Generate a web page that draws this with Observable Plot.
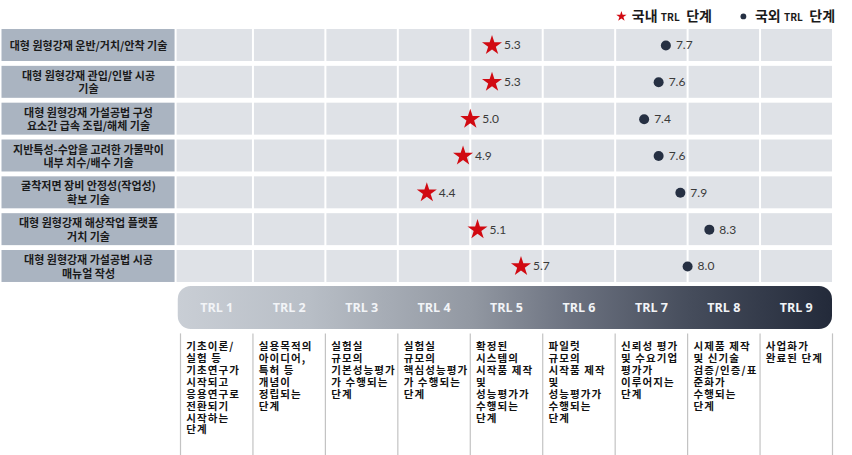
<!DOCTYPE html>
<html><head><meta charset="utf-8">
<script src="https://cdn.jsdelivr.net/npm/d3@7"></script>
<script src="https://cdn.jsdelivr.net/npm/@observablehq/plot@0.6"></script>
<style>
body{margin:0;background:#fff;}
#chart svg{display:block;}
</style>
</head><body><div id="chart"></div>
<script>
// ---- data ----
const techs = [
  "대형 원형강재 운반/거치/안착 기술",
  "대형 원형강재 관입/인발 시공\n기술",
  "대형 원형강재 가설공법 구성\n요소간 급속 조립/해체 기술",
  "지반특성-수압을 고려한 가물막이\n내부 치수/배수 기술",
  "굴착저면 장비 안정성(작업성)\n확보 기술",
  "대형 원형강재 해상작업 플랫폼\n거치 기술",
  "대형 원형강재 가설공법 시공\n매뉴얼 작성"
];
const domestic = [5.3, 5.3, 5.0, 4.9, 4.4, 5.1, 5.7];
const foreign  = [7.7, 7.6, 7.4, 7.6, 7.9, 8.3, 8.0];
const trlLevels = [1, 2, 3, 4, 5, 6, 7, 8, 9];
const trlNames = ["TRL 1","TRL 2","TRL 3","TRL 4","TRL 5","TRL 6","TRL 7","TRL 8","TRL 9"];
const trlDescriptions = [
  "기초이론/\n실험 등\n기초연구가\n시작되고\n응용연구로\n전환되기\n시작하는\n단계",
  "실용목적의\n아이디어,\n특허 등\n개념이\n정립되는\n단계",
  "실험실\n규모의\n기본성능평가\n가 수행되는\n단계",
  "실험실\n규모의\n핵심성능평가\n가 수행되는\n단계",
  "확정된\n시스템의\n시작품 제작\n및\n성능평가가\n수행되는\n단계",
  "파일럿\n규모의\n시작품 제작\n및\n성능평가가\n수행되는\n단계",
  "신뢰성 평가\n및 수요기업\n평가가\n이루어지는\n단계",
  "시제품 제작\n및 신기술\n검증/인증/표\n준화가\n수행되는\n단계",
  "사업화가\n완료된 단계"
];
const legendNames = ["국내", "국외"];
const legendUnit = "TRL";
const legendSuffix = "단계";

// ---- layout (in scale units) ----
const L = {
  labelX1: -1.464, labelX2: 0.925, labelCx: -0.27,
  gridX1: 0.953, gridX2: 10,
  rowHalf: 0.434,
  barY1: 6.544, barY2: 7.711, barX1: 0.969,
  descY1: 7.83, descY2: 11.2, descTextY: 8.05, descDx: 0.08,
  legendY: -0.79,
  legendSym: [7.086, 8.77], legendName: [7.23, 8.93], legendUnit: [7.63, 9.33], legendSuffix: [7.98, 9.68]
};
const FONT = "'Noto Sans CJK KR', 'Noto Sans', sans-serif";
const NUMFONT = "Lato, 'Open Sans', sans-serif";

const rows = techs.map((t, i) => ({row: i, label: t, dom: domestic[i], fgn: foreign[i]}));
const trl = trlLevels.map((n, i) => ({level: n, name: trlNames[i], desc: trlDescriptions[i]}));
const legend = legendNames.map((n, i) => ({name: n, i}));

const chart = Plot.plot({
  width: 852, height: 455,
  marginLeft: 180, marginRight: 20, marginTop: 0, marginBottom: 0,
  x: {domain: [1, 10], axis: null},
  y: {domain: [-1.222, 11.132], range: [0, 455], axis: null},
  style: {fontFamily: FONT, background: "#fff", overflow: "visible"},
  marks: [
    // left label boxes
    Plot.rect(rows, {x1: L.labelX1, x2: L.labelX2, y1: d => d.row - L.rowHalf, y2: d => d.row + L.rowHalf, fill: "#aab4c1"}),
    Plot.text(rows, {x: L.labelCx, y: "row", text: "label", fontSize: 11, fontWeight: "bold", fill: "#1a1a1a", lineHeight: 1.22, fontFamily: FONT}),
    // grid rows
    Plot.rect(rows, {x1: L.gridX1, x2: L.gridX2, y1: d => d.row - L.rowHalf, y2: d => d.row + L.rowHalf, fill: "#dfe2e7"}),
    Plot.ruleX(trlLevels.slice(1), {y1: -L.rowHalf - 0.05, y2: techs.length - 1 + L.rowHalf + 0.05, stroke: "#fff", strokeWidth: 2}),
    // domestic stars
    Plot.dot(rows, {x: "dom", y: "row", symbol: "star", r: 6.3, fill: "#d10a12", stroke: "none"}),
    Plot.text(rows, {x: "dom", y: "row", text: d => d.dom.toFixed(1), dx: 12, textAnchor: "start", fontSize: 12, fill: "#3a3a3a", fontFamily: NUMFONT}),
    // foreign circles
    Plot.dot(rows, {x: "fgn", y: "row", symbol: "circle", r: 5, fill: "#263043", stroke: "none"}),
    Plot.text(rows, {x: "fgn", y: "row", text: d => d.fgn.toFixed(1), dx: 10, textAnchor: "start", fontSize: 12, fill: "#3a3a3a", fontFamily: NUMFONT}),
    // TRL bar
    Plot.rect([0], {x1: L.barX1, x2: 10, y1: L.barY1, y2: L.barY2, fill: "url(#trlGrad)", rx: 13}),
    Plot.text(trl, {x: d => d.level + 0.5, y: (L.barY1 + L.barY2) / 2, text: "name", fill: "#f2f4f7", fontSize: 12.5, fontWeight: "bold", fontFamily: "'Open Sans', sans-serif"}),
    // description columns
    Plot.ruleX([...trlLevels, 10], {y1: L.descY1, y2: L.descY2, stroke: "#c3c3c3", strokeWidth: 1.2}),
    Plot.text(trl, {x: d => d.level + L.descDx, y: L.descTextY, text: "desc", textAnchor: "start", lineAnchor: "top", fontSize: 10.5, lineHeight: 1.13, fill: "#111", fontWeight: "bold", fontFamily: FONT}),
    // legend
    Plot.dot(legend, {x: d => L.legendSym[d.i], y: L.legendY, symbol: d => d.i === 0 ? "star" : "circle", r: d => d.i === 0 ? 6.3 : 5, fill: d => d.i === 0 ? "#d10a12" : "#263043"}),
    Plot.text(legend, {x: d => L.legendName[d.i], y: L.legendY, text: "name", textAnchor: "start", fontSize: 14, fontWeight: "bold", fill: "#1a1a1a", fontFamily: FONT}),
    Plot.text(legend, {x: d => L.legendUnit[d.i], y: L.legendY, text: () => legendUnit, textAnchor: "start", fontSize: 10, fontWeight: "bold", fill: "#1a1a1a", dy: 1, fontFamily: FONT}),
    Plot.text(legend, {x: d => L.legendSuffix[d.i], y: L.legendY, text: () => legendSuffix, textAnchor: "start", fontSize: 14, fontWeight: "bold", fill: "#1a1a1a", fontFamily: FONT})
  ]
});

const svg = d3.select(chart);
svg.selectAll('g[font-size="10.5"]').attr("letter-spacing", "1.1");
const grad = svg.insert("defs", ":first-child").append("linearGradient")
  .attr("id", "trlGrad").attr("x1", "0").attr("x2", "1").attr("y1", "0").attr("y2", "0");
[["0%", "#c9ced5"], ["20%", "#b8bec6"], ["45%", "#9298a2"], ["60%", "#6c7280"], ["78%", "#464d5c"], ["100%", "#232a3a"]]
  .forEach(([o, c]) => grad.append("stop").attr("offset", o).attr("stop-color", c));

document.getElementById("chart").appendChild(chart);
</script>
</body></html>
